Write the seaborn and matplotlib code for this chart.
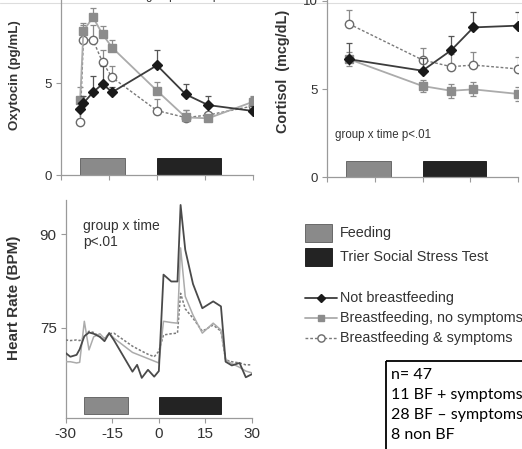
import matplotlib
matplotlib.use("Agg")
import matplotlib.pyplot as plt
from matplotlib.patches import Rectangle
from matplotlib.lines import Line2D
import seaborn as sns

# ---------------- data ----------------
groups = ["Not breastfeeding", "Breastfeeding, no symptoms", "Breastfeeding & symptoms"]

event_names = ["Feeding", "Trier Social Stress Test"]
event_start = [-24, 0]
event_end = [-10, 20]

# Oxytocin (pg/mL), mean and upper SE
ox_time = [-24, -23, -20, -17, -14, 0, 9, 16, 30]
ox_not_bf = [3.6, 3.9, 4.5, 4.95, 4.5, 5.96, 4.38, 3.8, 3.48]
ox_not_bf_se = [0.3, 0.4, 0.9, 1.0, 0.3, 0.85, 0.55, 0.5, 0.25]
ox_bf_nosym = [4.08, 7.84, 8.57, 7.65, 6.92, 4.58, 3.13, 3.08, 3.98]
ox_bf_nosym_se = [0.7, 0.4, 0.5, 0.45, 0.4, 0.45, 0.4, 0.2, 0.3]
ox_bf_sym = [2.9, 7.34, 7.34, 6.12, 5.3, 3.5, 3.12, 3.26, 3.75]
ox_bf_sym_se = [0.6, 0.8, 0.8, 0.7, 0.6, 0.65, 0.4, 0.6, 0.5]

# Cortisol (mcg/dL), mean and SE
cort_time = [-23, 0, 9, 16, 30]
cort_not_bf = [6.69, 6.04, 7.2, 8.5, 8.6]
cort_not_bf_se = [0.9, 0.7, 0.8, 0.87, 0.78]
cort_bf_nosym = [6.69, 5.17, 4.9, 4.98, 4.72]
cort_bf_nosym_se = [0.4, 0.35, 0.4, 0.4, 0.4]
cort_bf_sym = [8.69, 6.65, 6.27, 6.36, 6.14]
cort_bf_sym_se = [0.8, 0.66, 0.7, 0.76, 0.7]

# Heart rate (BPM)
hr_time = [-30, -28.5, -26.5, -25.5, -24, -22.5, -21, -19, -17.5, -16, -14.5,
           -8.5, -7, -5.5, -3.5, -1.5, 0, 1.5, 4, 6, 7, 8.5, 11, 14, 17.5,
           20, 21.5, 23.5, 26, 28, 30]
hr_not_bf = [70.9, 70.3, 70.6, 71.5, 73.6, 74.2, 74.0, 73.5, 72.8, 74.1, 73.0,
             67.9, 69.0, 66.9, 68.2, 67.1, 68.0, 83.5, 82.4, 82.4, 94.7, 87.5,
             82.0, 78.1, 79.2, 78.4, 69.5, 68.9, 69.3, 67.0, 67.5]
hr_bf_nosym = [69.5, 69.5, 69.3, 69.4, 76.0, 71.4, 73.5, 74.0, 73.2, 74.1, 73.3,
               71.0, 70.7, 70.4, 70.0, 69.6, 69.3, 76.0, 75.8, 75.7, 87.8, 80.0,
               77.0, 74.1, 75.7, 74.6, 69.8, 69.2, 68.6, 68.0, 67.7]
hr_bf_sym = [73.0, 72.9, 73.0, 72.9, 73.5, 74.4, 74.2, 73.5, 73.3, 74.0, 74.1,
             72.0, 71.6, 71.2, 70.7, 70.3, 71.2, 73.8, 74.0, 74.1, 80.5, 78.0,
             76.5, 74.4, 75.4, 74.4, 69.8, 69.5, 69.3, 69.0, 69.0]

x_ticks = [-30, -15, 0, 15, 30]
sample_info = ["n= 47", "11 BF + symptoms", "28 BF \u2013 symptoms", "8 non BF"]

# ---------------- styling ----------------
sns.set_theme(style="ticks")
plt.rcParams["font.family"] = ["Liberation Sans", "DejaVu Sans"]
plt.rcParams["axes.unicode_minus"] = False

W, H = 522, 449
fig = plt.figure(figsize=(W / 100, H / 100), dpi=100)

SPINE = "#9a9a9a"
TXT = "#333333"
event_colors = ["#8a8a8a", "#232323"]
event_edges = ["#5a5a5a", "#111111"]

styles = {
    "Not breastfeeding": dict(color="#3c3c3c", ls="-", lw=1.3, marker="D", ms=5.2,
                              mfc="#1a1a1a", mec="#1a1a1a", ecol="#555555", z=5),
    "Breastfeeding, no symptoms": dict(color="#ababab", ls="-", lw=1.3, marker="s", ms=5.5,
                                       mfc="#8c8c8c", mec="#8c8c8c", ecol="#8c8c8c", z=4),
    "Breastfeeding & symptoms": dict(color="#7a7a7a", ls=(0, (2, 1.4)), lw=1.0, marker="o", ms=6,
                                     mfc="white", mec="#6a6a6a", ecol="#8a8a8a", z=3),
}


def px_axes(left, right, bottom_px, top_px):
    return fig.add_axes([left / W, (H - bottom_px) / H, (right - left) / W, (bottom_px - top_px) / H])


def style_axes(ax, labelsize, show_xlabels):
    sns.despine(ax=ax)
    for s in ("left", "bottom"):
        ax.spines[s].set_color(SPINE)
        ax.spines[s].set_linewidth(0.9)
    ax.tick_params(colors=SPINE, labelcolor=TXT, labelsize=labelsize, length=3.5, width=0.8, pad=3)
    ax.set_xlim(-30, 30)
    ax.set_xticks(x_ticks)
    ax.tick_params(axis="x", labelbottom=show_xlabels)
    ax.set_xlabel("")
    ax.set_facecolor("none")


def draw_events(ax, bottom, height):
    for name, s, e, c, ec in zip(event_names, event_start, event_end, event_colors, event_edges):
        ax.bar((s + e) / 2, height, width=e - s, bottom=bottom, color=c, edgecolor=ec,
               linewidth=0.6, zorder=2)


def draw_series(ax, t, y, se, group, both_sides=False):
    st = styles[group]
    lower = se if both_sides else [0] * len(se)
    ax.errorbar(t, y, yerr=[lower, se], fmt="none", ecolor=st["ecol"], elinewidth=0.9,
                capsize=2.2, capthick=0.9, zorder=st["z"] - 0.5)
    sns.lineplot(x=t, y=y, ax=ax, color=st["color"], linestyle=st["ls"], linewidth=st["lw"],
                 marker=st["marker"], markersize=st["ms"], markerfacecolor=st["mfc"],
                 markeredgecolor=st["mec"], markeredgewidth=1.0, zorder=st["z"])


# ---------------- oxytocin ----------------
ax1 = px_axes(61, 253, 175, 175 - 10.5 * 18.4)
draw_events(ax1, 0, 0.92)
draw_series(ax1, ox_time, ox_bf_sym, ox_bf_sym_se, groups[2])
draw_series(ax1, ox_time, ox_bf_nosym, ox_bf_nosym_se, groups[1])
draw_series(ax1, ox_time, ox_not_bf, ox_not_bf_se, groups[0])
ax1.set_ylim(0, 10.5)
ax1.set_yticks([0, 5])
style_axes(ax1, 9.5, False)
ax1.set_ylabel("Oxytocin (pg/mL)", fontsize=9.6, fontweight="bold", color=TXT)
ax1.yaxis.label.set_va("center")
ax1.yaxis.set_label_coords((15 - 61) / 192, (175 - 75) / 193.2)

# ---------------- cortisol ----------------
ax2 = px_axes(327, 518, 177, 177 - 10.5 * 17.6)
draw_events(ax2, 0, 0.9)
draw_series(ax2, cort_time, cort_bf_nosym, cort_bf_nosym_se, groups[1], both_sides=True)
draw_series(ax2, cort_time, cort_bf_sym, cort_bf_sym_se, groups[2])
draw_series(ax2, cort_time, cort_not_bf, cort_not_bf_se, groups[0])
ax2.set_ylim(0, 10.5)
ax2.set_yticks([0, 5, 10])
style_axes(ax2, 9.5, False)
ax2.set_ylabel("Cortisol  (mcg/dL)", fontsize=10.4, fontweight="bold", color=TXT)
ax2.yaxis.label.set_va("center")
ax2.yaxis.set_label_coords((283 - 327) / 191, (177 - 71) / 184.8)
ax2.text((335 - 327) / 191, (177 - 135) / 184.8, "group x time p<.01", transform=ax2.transAxes,
         fontsize=8.3, color=TXT, va="center", ha="left")

# ---------------- heart rate ----------------
ax3 = px_axes(65.7, 252, 417.7, 417.7 - 35 * 6.22)
draw_events(ax3, 61.05, 2.75)
sns.lineplot(x=hr_time, y=hr_bf_sym, ax=ax3, color="#7a7a7a", linestyle=(0, (1.6, 1.2)), linewidth=1.1, zorder=3)
sns.lineplot(x=hr_time, y=hr_bf_nosym, ax=ax3, color="#ababab", linewidth=1.1, zorder=4)
sns.lineplot(x=hr_time, y=hr_not_bf, ax=ax3, color="#4a4a4a", linewidth=1.3, zorder=5)
ax3.set_ylim(60.5, 95.5)
ax3.set_yticks([75, 90])
style_axes(ax3, 11, True)
ax3.set_ylabel("Heart Rate (BPM)", fontsize=11, fontweight="bold", color=TXT)
ax3.yaxis.label.set_va("center")
ax3.yaxis.set_label_coords((14 - 65.7) / 186.3, (417.7 - 298) / 217.7)
ax3.text((83 - 65.7) / 186.3, (417.7 - 234) / 217.7, "group x time\np<.01", transform=ax3.transAxes,
         fontsize=10, color=TXT, va="center", ha="left", linespacing=1.25)

# ---------------- legend, sample box, page edge ----------------
ov = fig.add_axes([0, 0, 1, 1])
ov.set_xlim(0, W)
ov.set_ylim(H, 0)
ov.axis("off")
ov.set_zorder(-1)

for i, (name, c, ec) in enumerate(zip(event_names, event_colors, event_edges)):
    yc = 233 + 24 * i
    ov.add_patch(Rectangle((305, yc - 9), 27, 18, facecolor=c, edgecolor=ec, linewidth=0.6))
    ov.text(340, yc, name, fontsize=10.4, color=TXT, va="center", ha="left")

for i, g in enumerate(groups):
    st = styles[g]
    yc = 298 + 20 * i
    ov.add_line(Line2D([305, 337], [yc, yc], color=st["color"], linestyle=st["ls"], linewidth=st["lw"]))
    ov.add_line(Line2D([321], [yc], marker=st["marker"], markersize=st["ms"] - 0.8,
                       markerfacecolor=st["mfc"], markeredgecolor=st["mec"], markeredgewidth=1.0))
    ov.text(340, yc, g, fontsize=10.4, color=TXT, va="center", ha="left")

ov.add_patch(Rectangle((386, 361), 200, 120, fill=False, edgecolor="black", linewidth=1.3))
for i, line in enumerate(sample_info):
    ov.text(391, 375 + 20 * i, line, fontsize=11.5, family=["Lato", "DejaVu Sans"],
            color="black", va="center", ha="left")

ov.add_line(Line2D([0, W], [2.7, 2.7], color="#dddddd", linewidth=0.8))

# statistics caption of the oxytocin panel, running off the top edge
fig.text(146 / W, (H + 0.5) / H, "group x time p<.01", fontsize=8.3, color=TXT, va="baseline", ha="left")

fig.savefig("out.png", dpi=100)
